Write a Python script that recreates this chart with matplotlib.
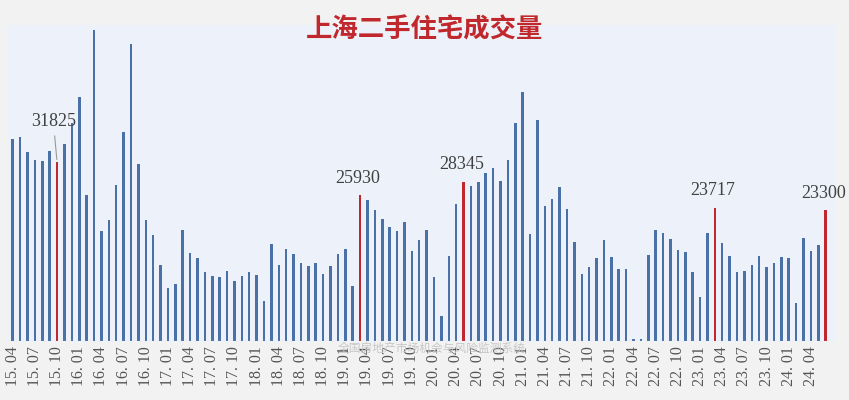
import matplotlib
matplotlib.use("Agg")
import matplotlib.pyplot as plt
import numpy as np

start_year, start_month = 2015, 4
values = [36000, 36400, 33600, 32200, 32000, 33900, 31825, 35000, 38800,
          43400, 26000, 55400, 19600, 21500, 27800, 37200, 52900, 31500, 21500,
          18900, 13600, 9500, 10100, 19800, 15700, 14700, 12200, 11600, 11400,
          12500, 10700, 11600, 12200, 11700, 7200, 17300, 13600, 16300, 15500,
          13900, 13400, 13900, 12000, 13400, 15500, 16400, 9800, 25930, 25100,
          23300, 21700, 20300, 19600, 21200, 16100, 17900, 19800, 11400, 4500,
          15100, 24400, 28345, 27600, 28300, 29900, 30800, 28500, 32200, 38800,
          44300, 19100, 39300, 24100, 25300, 27500, 23500, 17700, 12000, 13200,
          14800, 18000, 15000, 12900, 12900, 300, 300, 15300, 19800, 19300,
          18200, 16200, 15900, 12300, 7900, 19200, 23717, 17500, 15100, 12300,
          12500, 13600, 15100, 13200, 13900, 15000, 14700, 6800, 18400, 16100,
          17100, 23300]
highlight = ["15.10", "19.03", "20.05", "23.03", "24.06"]

n = len(values)
labels = []
for i in range(n):
    m = start_month - 1 + i
    labels.append(f"{(start_year + m // 12) % 100:02d}.{m % 12 + 1:02d}")

fig = plt.figure(figsize=(8.49, 4.0), dpi=100)
fig.patch.set_facecolor("#f2f2f2")
ax = fig.add_axes([8/849, 59/400, 827/849, 316/400])
ax.set_facecolor("#edf2fa")
x = np.arange(n)
colors = ["#c0282d" if l in highlight else "#4a71a5" for l in labels]
ax.bar(x, values, width=0.34, color=colors, zorder=2)
ax.set_xlim(-0.64, 111.26)
ax.set_ylim(0, 56250)
ax.set_yticks([])
ticks = x[::3]
ax.set_xticks(ticks)
ax.set_xticklabels([labels[i].replace(".", ". ") for i in ticks], rotation=90,
                   fontsize=11.5, family="Liberation Serif", color="#555555")
ax.tick_params(axis="x", length=0, pad=4)
for s in ax.spines.values():
    s.set_visible(False)
ax.axhline(0, color="#d9d9d9", lw=0.8)

for l in highlight:
    i = labels.index(l)
    v = values[i]
    if l == "15.10":
        ax.annotate(str(v), xy=(i, v), xytext=(i - 0.5, v + 6400), ha="center",
                    fontsize=13, family="Liberation Serif", color="#404040",
                    arrowprops=dict(arrowstyle="-", color="#999999", lw=0.8))
    else:
        ax.text(i - 0.3, v + 1500, str(v), ha="center", va="bottom", fontsize=13,
                family="Liberation Serif", color="#404040")

fig.text(0.5, 0.925, "上海二手住宅成交量", ha="center", va="center", fontsize=19,
         fontweight="bold", color="#c0282d", family=["Noto Sans CJK SC", "DejaVu Sans"])
fig.text(0.508, 0.13, "全国房地产市场机会与风险监测系统", ha="center", va="center",
         fontsize=8.5, color="#c8c8c8", family=["Noto Sans CJK SC", "DejaVu Sans"])
fig.savefig("out.png", dpi=100, facecolor=fig.get_facecolor())
